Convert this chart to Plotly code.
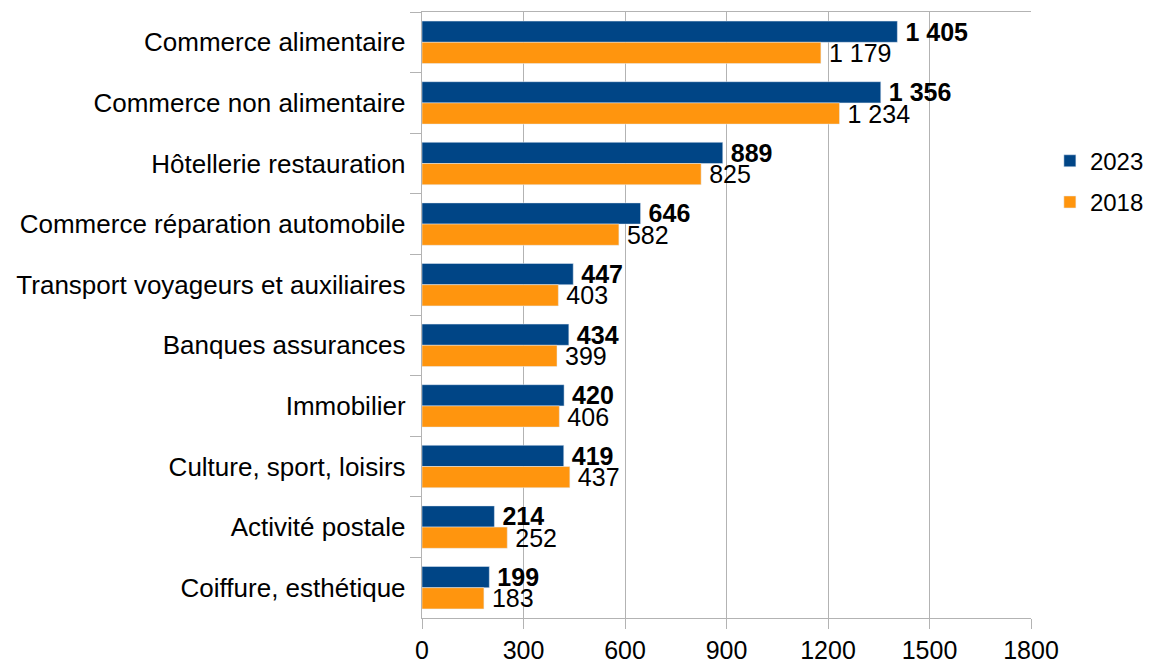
import plotly.graph_objects as go

categories = [
    "Commerce alimentaire",
    "Commerce non alimentaire",
    "Hôtellerie restauration",
    "Commerce réparation automobile",
    "Transport voyageurs et auxiliaires",
    "Banques assurances",
    "Immobilier",
    "Culture, sport, loisirs",
    "Activité postale",
    "Coiffure, esthétique",
]
values_2023 = [1405, 1356, 889, 646, 447, 434, 420, 419, 214, 199]
values_2018 = [1179, 1234, 825, 582, 403, 399, 406, 437, 252, 183]


def fmt(v):
    return f"{v:,}".replace(",", " ")


fig = go.Figure()

fig.add_trace(go.Bar(
    y=categories, x=values_2023, orientation="h", name="2023", legendgroup="a",
    marker=dict(color="#004586"),
    text=[f"\u2009<b>{fmt(v)}</b>" for v in values_2023],
    textposition="outside", textfont=dict(size=25, color="black"),
    cliponaxis=False, constraintext="none",
))
fig.add_trace(go.Bar(
    y=categories, x=values_2018, orientation="h", name="2018", legendgroup="b",
    marker=dict(color="#ff950e"),
    text=["\u2009" + fmt(v) for v in values_2018],
    textposition="outside", textfont=dict(size=25, color="black"),
    cliponaxis=False, constraintext="none",
))

# page body has an 8px margin, so margins are shifted to land the plot at 422..1031 x 12..618
fig.update_layout(
    width=1154, height=663,
    barmode="group", bargap=0.3, bargroupgap=0,
    plot_bgcolor="white", paper_bgcolor="white",
    font=dict(family="Liberation Sans, Arial, sans-serif", size=25, color="black"),
    margin=dict(l=414, r=131, t=4, b=53),
    legend=dict(x=1.031, y=0.72, yanchor="middle", traceorder="grouped",
                tracegroupgap=7, font=dict(size=24), itemwidth=30),
    xaxis=dict(range=[0, 1800], dtick=300, showgrid=True, gridcolor="#b3b3b3",
               ticks="outside", ticklen=10, tickcolor="#b3b3b3",
               showline=True, linecolor="#b3b3b3", mirror=True,
               tickfont=dict(size=25), zeroline=False),
    yaxis=dict(autorange="reversed", ticks="outside", ticklen=11, tickcolor="#b3b3b3",
               tickson="boundaries", showline=True, linecolor="#b3b3b3",
               ticksuffix=" ", ticklabelstandoff=3, tickfont=dict(size=26)),
)

fig.write_html("out.html")
